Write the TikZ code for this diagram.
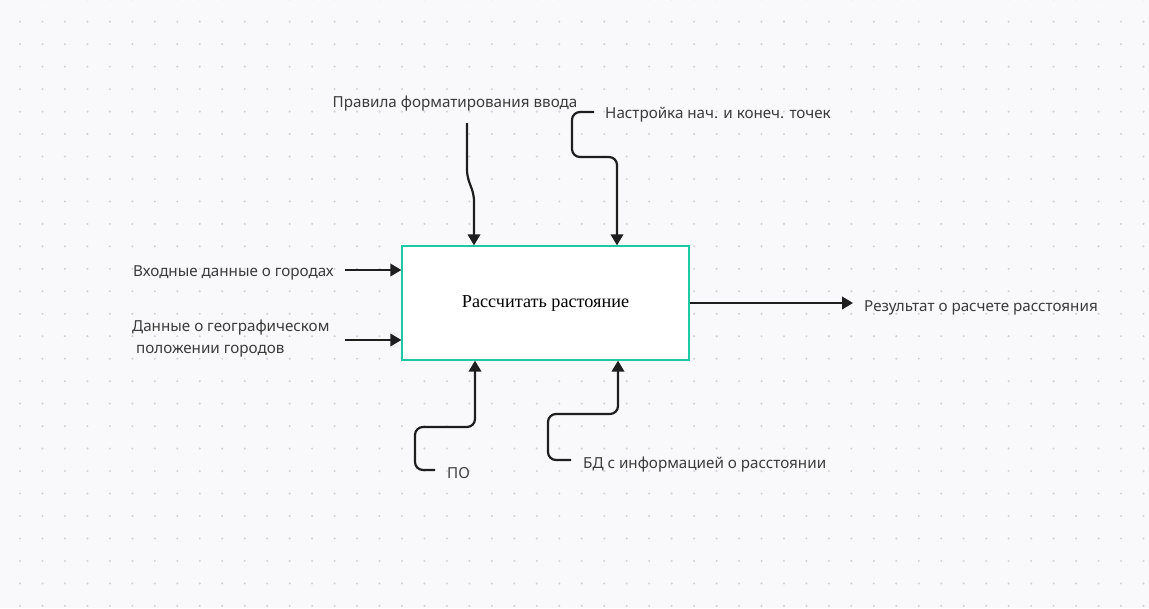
\documentclass[tikz,border=0pt]{standalone}
\usepackage{fontspec}
\setmainfont{Noto Sans}
\newfontfamily\boxfont{Liberation Serif}
\usetikzlibrary{arrows.meta}

\definecolor{paper}{HTML}{F9F9FB}
\definecolor{griddot}{HTML}{D4D5DA}
\definecolor{labelgray}{HTML}{3B3B3B}
\definecolor{inkline}{HTML}{1E1E1E}
\definecolor{boxteal}{HTML}{1CC9A4}

\begin{document}
\begin{tikzpicture}[x=1pt,y=-1pt,
        arr/.style={draw=inkline, line width=2.2pt, rounded corners=8pt,
            -{Triangle[length=11pt,width=12.5pt]}},
        lbl/.style={text=labelgray, inner sep=0pt, font=\fontsize{15.2}{22}\selectfont}]

        \def\gap{22.47}

        \useasboundingbox (0,0) rectangle (1149,608);
        \fill[paper] (0,0) rectangle (1149,608);
        \foreach \i in {0,...,51}
          \foreach \j in {0,...,27}
            \fill[griddot] (20+\gap*\i,-0.8+\gap*\j) circle (1.2);

        \node [draw=boxteal, line width=1.3pt, fill=white, minimum width=287pt, minimum height=114pt,
            font=\boxfont\fontsize{18.2}{20}\selectfont] (calc) at (545.5,303) {\raisebox{-4pt}{Рассчитать растояние}};

        % labels
        \node [lbl, anchor=base] (rules) at (455,107) {Правила форматирования ввода};
        \node [lbl, anchor=base west] (points) at (605,118) {Настройка нач. и конеч. точек};
        \node [lbl, anchor=base west] (cities) at (133,276) {Входные данные о городах};
        \node [lbl, anchor=north west, align=left] (geo) at (132,320) {Данные о географическом\\\hspace{4pt}положении городов};
        \node [lbl, anchor=base west] (result) at (864,311) {Результат о расчете расстояния};
        \node [lbl, anchor=base west] (soft) at (447,478) {ПО};
        \node [lbl, anchor=base west] (db) at (583,468) {БД с информацией о расстоянии};

        % free ends
        \coordinate (rulesEnd) at (467,123);
        \coordinate (pointsEnd) at (594,112);
        \coordinate (citiesEnd) at (345,270);
        \coordinate (geoEnd) at (345,340);
        \coordinate (softEnd) at (435,470);
        \coordinate (dbEnd) at (571,460);
        \coordinate (resultEnd) at (853,303);

        % arrows
        \draw[arr, rounded corners=6pt] (rulesEnd) -- (467,176) -- (474,195) -- (474,0 |- calc.north);
        \draw[arr] (pointsEnd) -- (572,112) -- (572,157) -- (617,157) -- (617,0 |- calc.north);
        \draw[arr] (citiesEnd) -- (calc.west |- citiesEnd);
        \draw[arr] (geoEnd) -- (calc.west |- geoEnd);
        \draw[arr] (softEnd) -- (415,470) -- (415,427) -- (475,427) -- (475,0 |- calc.south);
        \draw[arr] (dbEnd) -- (548,460) -- (548,414) -- (618,414) -- (618,0 |- calc.south);
        \draw[arr] (calc.east |- resultEnd) -- (resultEnd);

      \end{tikzpicture}
\end{document}
